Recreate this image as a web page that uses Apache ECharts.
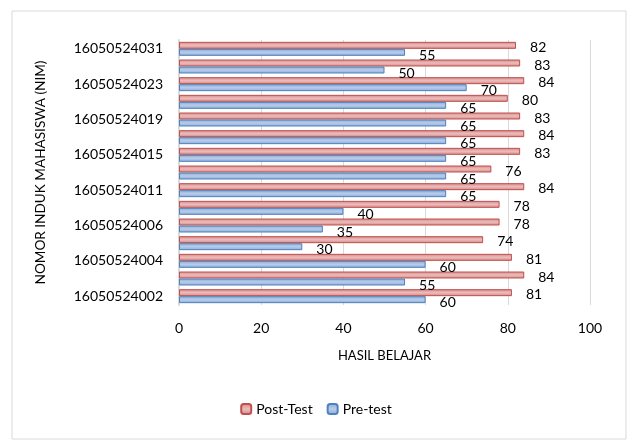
<!DOCTYPE html>
<html>
<head>
<meta charset="utf-8">
<script src="https://cdn.jsdelivr.net/npm/echarts@6/dist/echarts.min.js"></script>
<style>
  html, body { margin: 0; padding: 0; background: #fff; }
  #chart { width: 632px; height: 441px; }
</style>
</head>
<body>
<div id="chart"></div>
<script>
// bottom to top
const categories = [
  '16050524002', '16050524003', '16050524004', '16050524005', '16050524006',
  '16050524008', '16050524011', '16050524013', '16050524015', '16050524017',
  '16050524019', '16050524021', '16050524023', '16050524027', '16050524031'
]
const postTest = [81, 84, 81, 74, 78, 78, 84, 76, 83, 84, 83, 80, 84, 83, 82]
const preTest = [60, 55, 60, 30, 35, 40, 65, 65, 65, 65, 65, 65, 70, 50, 55]
const xTicks = [0, 20, 40, 60, 80, 100]

const font = 'Lato, "Open Sans", sans-serif'

const chart = echarts.init(document.getElementById('chart'))

const barGrad = (edge, mid) => new echarts.graphic.LinearGradient(0, 0, 0, 1, [
  { offset: 0, color: edge },
  { offset: 0.5, color: mid },
  { offset: 1, color: edge }
])

const option = {
  animation: false,
  textStyle: { fontFamily: font },
  graphic: [
    {
      type: 'rect',
      shape: { x: 12, y: 11, width: 614, height: 428 },
      style: { fill: 'none', stroke: '#d9d9d9', lineWidth: 1 }
    }
  ],
  grid: { left: 179, right: 42, top: 40, bottom: 136 },
  legend: {
    data: ['Post-Test', 'Pre-test'],
    bottom: 20,
    left: 'center',
    itemWidth: 10,
    itemHeight: 10,
    itemGap: 14,
    textStyle: { fontSize: 14, color: '#000', fontFamily: font }
  },
  xAxis: {
    type: 'value',
    min: 0,
    max: 100,
    interval: 20,
    name: 'HASIL BELAJAR',
    nameLocation: 'middle',
    nameGap: 44,
    nameTextStyle: { fontSize: 13, color: '#000' },
    axisLine: { show: false },
    axisTick: { show: false },
    axisLabel: {
      fontSize: 14,
      color: '#000',
      margin: 16,
      formatter: v => xTicks.includes(v) ? String(v) : ''
    },
    splitLine: { lineStyle: { color: '#d9d9d9', width: 1 } }
  },
  yAxis: {
    type: 'category',
    data: categories,
    name: 'NOMOR INDUK MAHASISWA (NIM)',
    nameLocation: 'middle',
    nameGap: 131,
    nameRotate: 90,
    nameTextStyle: { fontSize: 13.6, color: '#000', padding: [0, 0, 0, 0] },
    axisLine: { show: true, lineStyle: { color: '#d9d9d9', width: 2 } },
    axisTick: { show: false },
    axisLabel: { interval: 1, fontSize: 14, color: '#000', margin: 16 }
  },
  series: [
    {
      name: 'Post-Test',
      type: 'bar',
      data: postTest,
      barWidth: 7,
      barGap: '0%',
      itemStyle: {
        color: barGrad('#d38684', '#ebbdbc'),
        borderColor: '#c0504d',
        borderWidth: 1
      },
      label: {
        show: true,
        position: 'right',
        distance: 14,
        offset: [0, 2],
        fontSize: 14,
        color: '#000'
      }
    },
    {
      name: 'Pre-test',
      type: 'bar',
      data: preTest,
      barWidth: 7,
      barGap: '0%',
      itemStyle: {
        color: barGrad('#88a9d8', '#b9cde9'),
        borderColor: '#4f81bd',
        borderWidth: 1
      },
      label: {
        show: true,
        position: 'right',
        distance: 14,
        offset: [0, 3],
        fontSize: 14,
        color: '#000'
      }
    }
  ]
}

chart.setOption(option)
</script>
</body>
</html>
